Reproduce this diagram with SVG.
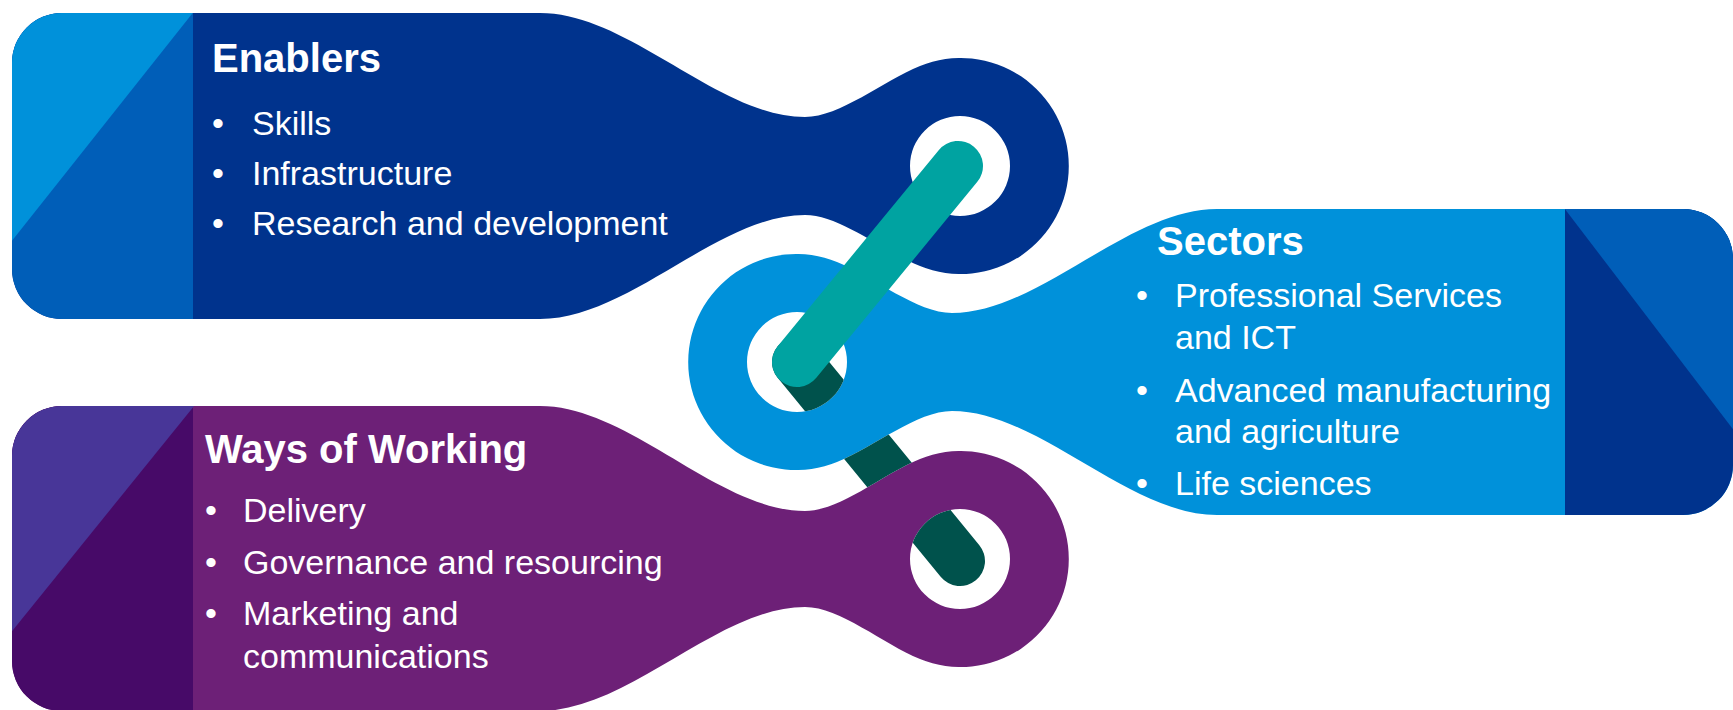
<svg xmlns="http://www.w3.org/2000/svg" xmlns:xlink="http://www.w3.org/1999/xlink" width="1733" height="710" viewBox="0 0 1733 710">
<style>
.t{font-family:"Liberation Sans",Arial,sans-serif;fill:#ffffff}
.h{font-size:40px;font-weight:bold}
.i{font-size:34px}
.link{fill:none;stroke-width:50;stroke-linecap:round}
</style>
<defs>
<path id="shpE" fill-rule="evenodd" d="M 62,13 H 540 C 629,13 718,117 805,117 C 840,117 883,81 920,66 A 108 108 0 1 1 920,266 C 883,251 840,215 805,215 C 718,215 629,319 540,319 H 62 A 50 50 0 0 1 12,269 V 63 A 50 50 0 0 1 62,13 Z M 1010,166 A 50 50 0 1 0 910,166 A 50 50 0 1 0 1010,166 Z"/>
<path id="shpS" fill-rule="evenodd" d="M 1217,209 H 1683 A 50 50 0 0 1 1733,259 V 465 A 50 50 0 0 1 1683,515 H 1217 C 1128,515 1039,411 952,411 C 917,411 874,447 837,462 A 108 108 0 1 1 837,262 C 874,277 917,313 952,313 C 1039,313 1128,209 1217,209 Z M 847,362 A 50 50 0 1 0 747,362 A 50 50 0 1 0 847,362 Z"/>
<path id="shpW" fill-rule="evenodd" d="M 62,406 H 540 C 629,406 718,511 805,511 C 840,511 883,474 920,459 A 108 108 0 1 1 920,659 C 883,644 840,607 805,607 C 718,607 629,711 540,711 H 62 A 50 50 0 0 1 12,661 V 456 A 50 50 0 0 1 62,406 Z M 1010,559 A 50 50 0 1 0 910,559 A 50 50 0 1 0 1010,559 Z"/>
<clipPath id="cE"><use xlink:href="#shpE"/></clipPath>
<clipPath id="cS"><use xlink:href="#shpS"/></clipPath>
<clipPath id="cW"><use xlink:href="#shpW"/></clipPath>
<mask id="mBack" maskUnits="userSpaceOnUse" x="0" y="0" width="1733" height="710">
<rect x="0" y="0" width="1733" height="710" fill="#ffffff"/>
<use xlink:href="#shpS" fill="#000000"/>
<use xlink:href="#shpW" fill="#000000"/>
</mask>
</defs>
<rect x="0" y="0" width="1733" height="710" fill="#ffffff"/>

<g id="node-enablers">
<use xlink:href="#shpE" fill="#00338D"/>
<g clip-path="url(#cE)">
<rect x="0" y="0" width="193" height="330" fill="#005EB8"/>
<polygon points="0,0 203,0 0,256" fill="#0091DA"/>
</g>
<text class="t h" x="212" y="72">Enablers</text>
<text class="t i" x="212" y="135">•</text><text class="t i" x="252" y="135">Skills</text>
<text class="t i" x="212" y="185">•</text><text class="t i" x="252" y="185">Infrastructure</text>
<text class="t i" x="212" y="235">•</text><text class="t i" x="252" y="235">Research and development</text>
</g>

<g id="node-sectors">
<use xlink:href="#shpS" fill="#0091DA"/>
<g clip-path="url(#cS)">
<rect x="1565" y="200" width="180" height="330" fill="#00338D"/>
<polygon points="1558,200 1745,200 1745,445" fill="#005EB8"/>
</g>
<text class="t h" x="1157" y="255">Sectors</text>
<text class="t i" x="1136" y="307">•</text><text class="t i" x="1175" y="307">Professional Services</text>
<text class="t i" x="1175" y="349">and ICT</text>
<text class="t i" x="1136" y="402">•</text><text class="t i" x="1175" y="402">Advanced manufacturing</text>
<text class="t i" x="1175" y="443">and agriculture</text>
<text class="t i" x="1136" y="495">•</text><text class="t i" x="1175" y="495">Life sciences</text>
</g>

<g id="node-ways">
<use xlink:href="#shpW" fill="#6D2077"/>
<g clip-path="url(#cW)">
<rect x="0" y="395" width="193" height="320" fill="#470A68"/>
<polygon points="0,395 203,395 0,646" fill="#483698"/>
</g>
<text class="t h" x="205" y="463">Ways of Working</text>
<text class="t i" x="205" y="522">•</text><text class="t i" x="243" y="522">Delivery</text>
<text class="t i" x="205" y="574">•</text><text class="t i" x="243" y="574">Governance and resourcing</text>
<text class="t i" x="205" y="625">•</text><text class="t i" x="243" y="625">Marketing and</text>
<text class="t i" x="243" y="668">communications</text>
</g>

<g id="connectors">
<line class="link" x1="797" y1="362" x2="960" y2="561" stroke="#00524C" mask="url(#mBack)"/>
<line class="link" x1="958" y1="166" x2="797" y2="362" stroke="#00A3A1"/>
</g>
</svg>
